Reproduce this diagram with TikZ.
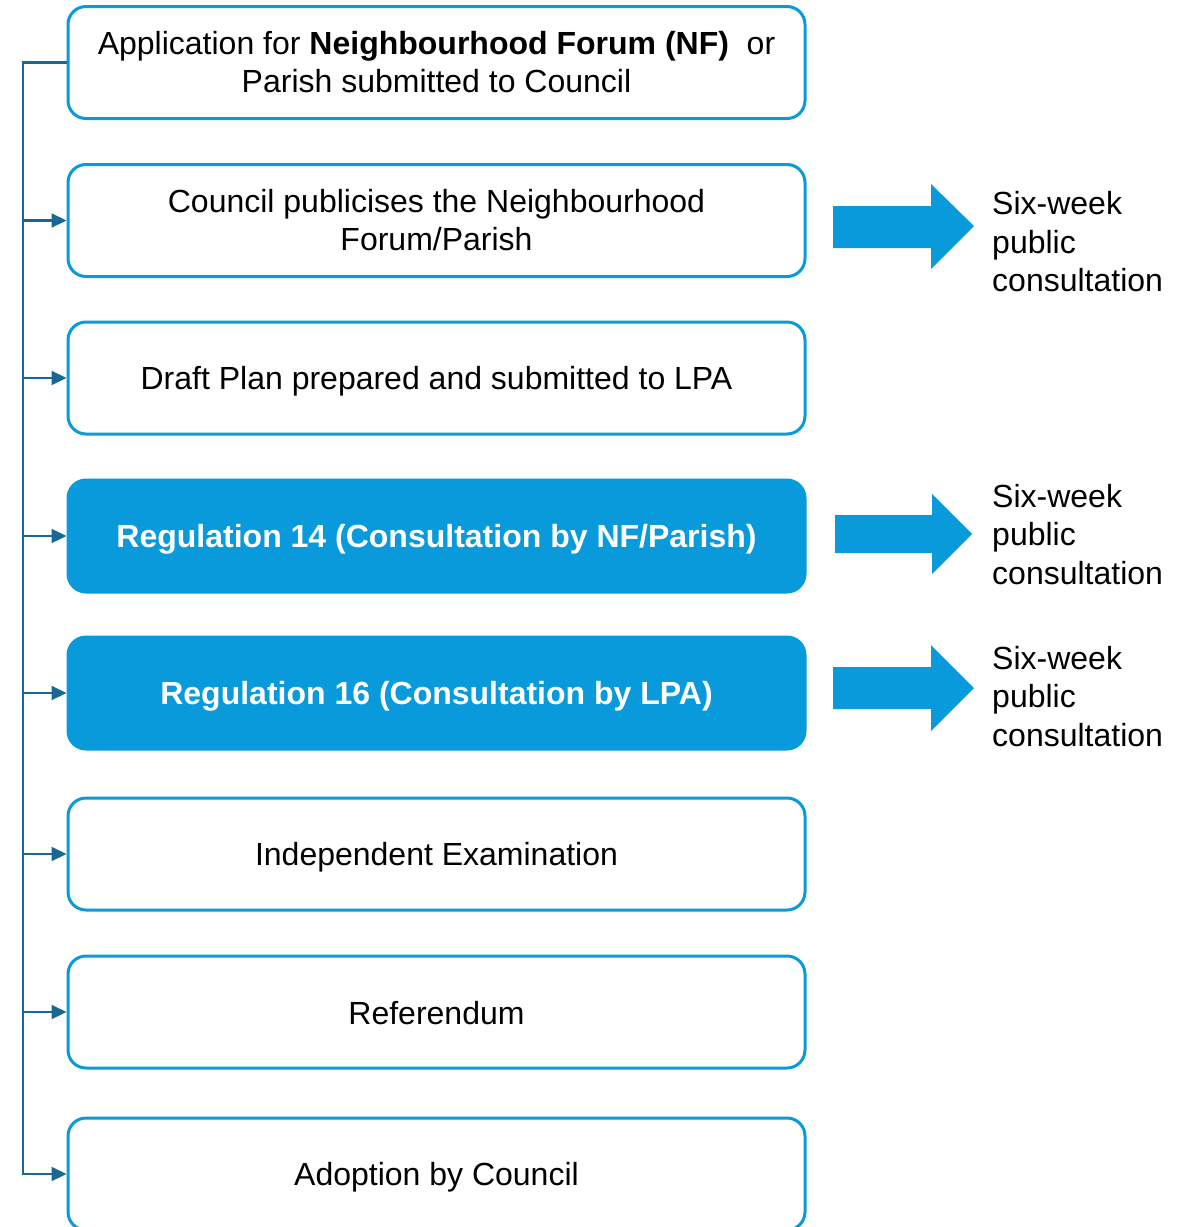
\documentclass[tikz,border=0pt]{standalone}
\usepackage{fontspec}
\setmainfont{Liberation Sans}
\usetikzlibrary{arrows.meta}
\definecolor{boxblue}{RGB}{8,154,218}
\definecolor{linkblue}{RGB}{24,104,150}
\newcommand{\lowered}[2][7pt]{\raisebox{0pt}[\dimexpr\height+#1\relax][\depth]{#2}}
\begin{document}
\begin{tikzpicture}[x=1pt,y=-1pt,
  stepbox/.style={draw=boxblue,line width=3pt,rounded corners=18pt,fill=white,
    minimum width=737pt,minimum height=112pt,align=center,inner sep=0pt,
    font=\fontsize{32}{38}\selectfont},
  keybox/.style={stepbox,fill=boxblue,text=white,font=\fontsize{32}{38}\selectfont\bfseries},
  link/.style={draw=linkblue,line width=2.2pt,-{Triangle[length=15pt,width=14pt]}},
  bigarrow/.style={fill=boxblue},
  note/.style={align=left,anchor=west,inner sep=0pt,font=\fontsize{32}{38.5}\selectfont}]
\useasboundingbox (0,0) rectangle (1189,1227);

\node[stepbox] (b1) at (436.5,62.5) {Application for \textbf{Neighbourhood Forum (NF)}\ \ or\\Parish submitted to Council};
\node[stepbox] (b2) at (436.5,220.5) {Council publicises the Neighbourhood\\Forum/Parish};
\node[stepbox] (b3) at (436.5,378) {\lowered{Draft Plan prepared and submitted to LPA}};
\node[keybox] (b4) at (436.5,536) {\lowered{Regulation 14 (Consultation by NF/Parish)}};
\node[keybox] (b5) at (436.5,693) {\lowered{Regulation 16 (Consultation by LPA)}};
\node[stepbox] (b6) at (436.5,854) {\lowered{Independent Examination}};
\node[stepbox] (b7) at (436.5,1012) {\lowered[3pt]{Referendum}};
\node[stepbox] (b8) at (436.5,1174) {\lowered{Adoption by Council}};

% left connector
\path (b1.west) ++(-43.5,0) coordinate (spine);
\draw[link] (b1.west) -- (spine) -- (spine |- b8.west) -- (b8.west);
\foreach \k in {b2,b3,b4,b5,b6,b7}
  \draw[link] (spine |- \k.west) -- (\k.west);

% block arrows
\fill[bigarrow] (833,206) -- (931,206) -- (931,184) -- (974,226) -- (931,269) -- (931,248) -- (833,248) -- cycle;
\fill[bigarrow] (835,515) -- (932,515) -- (932,494) -- (972,534) -- (932,574) -- (932,553) -- (835,553) -- cycle;
\fill[bigarrow] (833,667) -- (931,667) -- (931,645) -- (974,688) -- (931,731) -- (931,709) -- (833,709) -- cycle;

\node[note] (n1) at (992,242) {Six-week\\public\\consultation};
\node[note] (n2) at (992,534.5) {Six-week\\public\\consultation};
\node[note] (n3) at (992,696.5) {Six-week\\public\\consultation};
\end{tikzpicture}
\end{document}
